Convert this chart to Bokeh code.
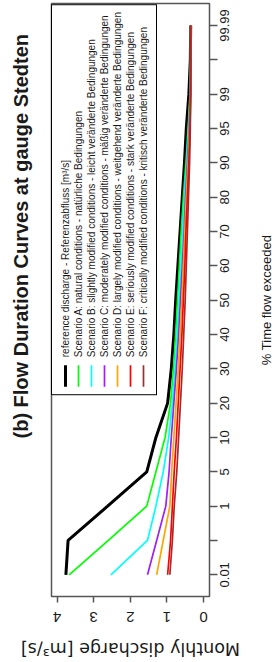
import math
from bokeh.plotting import figure
from bokeh.models import Range1d, FixedTicker, LinearAxis
from bokeh.embed import file_html
from bokeh.resources import INLINE

# ---- data ----
exceedance_labels = ["0.01", "", "1", "5", "10", "20", "30", "40", "50", "60",
                     "70", "80", "90", "95", "99", "", "99.99"]
positions = list(range(len(exceedance_labels)))

reference = [3.76, 3.70, 2.62, 1.55, 1.30, 0.98, 0.88, 0.81, 0.76, 0.70, 0.64, 0.58, 0.52, 0.47, 0.40, 0.36, 0.35]
scen_a = [3.67, 2.60, 1.55, 1.30, 1.05, 0.90, 0.82, 0.76, 0.71, 0.66, 0.61, 0.55, 0.48, 0.42, 0.37, 0.35, 0.35]
scen_b = [2.53, 1.53, 1.30, 1.10, 0.95, 0.85, 0.78, 0.72, 0.67, 0.62, 0.57, 0.52, 0.46, 0.41, 0.36, 0.35, 0.35]
scen_c = [1.53, 1.28, 1.03, 0.94, 0.88, 0.81, 0.74, 0.68, 0.63, 0.58, 0.53, 0.49, 0.44, 0.39, 0.36, 0.35, 0.35]
scen_d = [1.28, 1.10, 0.92, 0.87, 0.81, 0.75, 0.69, 0.64, 0.59, 0.55, 0.51, 0.47, 0.42, 0.38, 0.35, 0.35, 0.35]
scen_e = [0.98, 0.90, 0.85, 0.80, 0.74, 0.69, 0.64, 0.59, 0.55, 0.51, 0.48, 0.44, 0.40, 0.37, 0.35, 0.35, 0.35]
scen_f = [0.92, 0.85, 0.80, 0.73, 0.68, 0.63, 0.58, 0.54, 0.50, 0.47, 0.44, 0.41, 0.38, 0.36, 0.35, 0.35, 0.35]

series_values = [reference, scen_a, scen_b, scen_c, scen_d, scen_e, scen_f]
series_names = [
    "reference discharge - Referenzabfluss [m\u00b3/s]",
    "Scenario A: natural conditions - nat\u00fcrliche Bedingungen",
    "Scenario B: slightly modified conditions - leicht ver\u00e4nderte Bedingungen",
    "Scenario C: moderately modified conditions - m\u00e4\u00dfig ver\u00e4nderte Bedingungen",
    "Scenario D: largely modified conditions - weitgehend ver\u00e4nderte Bedingungen",
    "Scenario E: seriously modified conditions - stark ver\u00e4nderte Bedingungen",
    "Scenario F: critically modified conditions - kritisch ver\u00e4nderte Bedingungen",
]
series_colors = ["#000000", "#00ff00", "#00ffff", "#a020f0", "#ffa500", "#ff0000", "#a52a2a"]
series_widths = [3, 1.7, 1.7, 1.7, 1.7, 1.7, 1.7]

discharge_ticks = [0, 1, 2, 3, 4]

FONT = "Liberation Sans"
AX = "#555555"
TXT = "#1a1a1a"

# The chart is drawn like the original (exceedance along x, discharge along y) on a
# 662x277 canvas; the page element is 277x662 and is turned 90 degrees counter-clockwise.
p = figure(width=277, height=662, output_backend="svg", toolbar_location=None,
           x_range=Range1d(-0.632, 16.64), y_range=Range1d(-0.164, 4.153),
           min_border_left=57, min_border_right=4, min_border_top=51, min_border_bottom=68,
           title="(b) Flow Duration Curves at gauge Stedten")
p.styles = {"transform": "translateY(662px) rotate(-90deg)", "transform-origin": "0 0",
            "overflow": "visible"}
p.grid.visible = False
p.background_fill_color = "white"
p.border_fill_color = "white"
p.outline_line_color = AX
p.outline_line_width = 1.5

# x axis: % time flow exceeded
xa = p.xaxis[0]
xa.ticker = FixedTicker(ticks=positions)
xa.major_label_overrides = {i: lab for i, lab in zip(positions, exceedance_labels)}
xa.axis_line_color = None
xa.major_tick_line_color = AX
xa.major_tick_line_width = 1.5
xa.major_tick_in = 0
xa.major_tick_out = 8
xa.minor_tick_line_color = None
xa.major_label_standoff = 2
xa.major_label_text_font = FONT
xa.major_label_text_font_size = "13px"
xa.major_label_text_color = TXT
xa.axis_label = "% Time flow exceeded"
xa.axis_label_standoff = 27
xa.axis_label_text_font = FONT
xa.axis_label_text_font_style = "normal"
xa.axis_label_text_font_size = "13px"
xa.axis_label_text_color = TXT

# y axis: monthly discharge
ya = p.yaxis[0]
ya.ticker = FixedTicker(ticks=discharge_ticks)
ya.major_label_orientation = "vertical"
ya.axis_line_color = None
ya.major_tick_line_color = AX
ya.major_tick_line_width = 1.5
ya.major_tick_in = 0
ya.major_tick_out = 6
ya.minor_tick_line_color = None
ya.major_label_standoff = 9
ya.major_label_text_font = FONT
ya.major_label_text_font_size = "15px"
ya.major_label_text_color = TXT
ya.axis_label = "Monthly discharge [m\u00b3/s]"
ya.axis_label_standoff = 14
ya.axis_label_text_font = "DejaVu Sans"
ya.axis_label_text_font_style = "normal"
ya.axis_label_text_font_size = "17.5px"
ya.axis_label_text_color = TXT

# invisible spacer between frame and title (one hidden tick, blank label)
spacer = LinearAxis(ticker=FixedTicker(ticks=[positions[0]]),
                    major_label_overrides={positions[0]: ""},
                    axis_line_color=None, major_tick_line_color=None, minor_tick_line_color=None,
                    major_tick_in=0, major_tick_out=15, major_label_standoff=0,
                    major_label_text_font_size="1px")
p.add_layout(spacer, "above")

p.title.align = "left"
p.title.offset = 158
p.title.text_font = FONT
p.title.text_font_style = "bold"
p.title.text_font_size = "20px"
p.title.text_color = TXT

# ---- curves ----
for vals, col, w, name in zip(series_values, series_colors, series_widths, series_names):
    p.line(x=positions, y=vals, line_color=col, line_width=w, legend_label=name)

lg = p.legend[0]
lg.location = "top_right"
lg.margin = 0
lg.padding = 7
lg.spacing = 1
lg.label_height = 12
lg.glyph_height = 12
lg.glyph_width = 22
lg.label_standoff = 8
lg.label_text_font = FONT
lg.label_text_font_size = "10px"
lg.label_text_color = TXT
lg.border_line_color = "black"
lg.border_line_width = 1
lg.border_line_alpha = 1
lg.background_fill_color = "white"
lg.background_fill_alpha = 1

open("out.html", "w").write(file_html(p, INLINE))
